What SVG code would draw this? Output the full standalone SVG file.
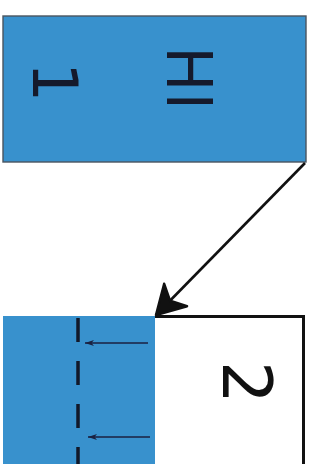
<svg xmlns="http://www.w3.org/2000/svg" width="320" height="464" viewBox="0 0 320 464">
  <style>
    .blue { fill: #3891cd; }
    .lbl { font-family: "Liberation Sans", Arial, sans-serif; fill: #151a2c; }
    .lbl2 { font-family: "DejaVu Sans", sans-serif; fill: #151a2c; }
    .lbl3 { font-family: "DejaVu Sans", sans-serif; fill: #111111; }
    .big { stroke: #111; stroke-width: 2.6; fill: none; }
    .small { stroke: #1a2140; stroke-width: 1.6; fill: none; }
  </style>
  <defs>
    <marker id="bigHead" markerUnits="userSpaceOnUse" markerWidth="40" markerHeight="40" viewBox="-32 -20 36 40" refX="0" refY="0" orient="auto" overflow="visible">
      <path d="M0,0 L-28,-16 L-20,0 L-28,16 Z" fill="#111" stroke="#111" stroke-width="2.5" stroke-linejoin="round"/>
    </marker>
    <marker id="smallHead" markerUnits="userSpaceOnUse" markerWidth="12" markerHeight="10" viewBox="-10 -5 12 10" refX="0" refY="0" orient="auto" overflow="visible">
      <path d="M0,0 L-9,-3 L-6.5,0 L-9,3 Z" fill="#1a2140"/>
    </marker>
  </defs>
  <rect width="320" height="464" fill="#ffffff"/>

  <g id="node1">
    <rect class="blue" x="3" y="16" width="303" height="146" stroke="#4a5560" stroke-width="1.4"/>
    <g transform="translate(167,47.5) rotate(90) scale(0.9,1)">
      <text class="lbl" x="0" y="0" font-size="66" letter-spacing="3">HI</text>
    </g>
    <g transform="translate(33,62) rotate(90)">
      <text class="lbl2" x="0" y="0" font-size="63">1</text>
    </g>
  </g>

  <g id="node2">
    <rect class="blue" x="3" y="316" width="152" height="150"/>
    <path d="M155,316.5 H303.5 V466" fill="#fff" stroke="#111" stroke-width="3"/>
    <line x1="78" y1="318" x2="78" y2="466" stroke="#121829" stroke-width="3.5" stroke-dasharray="24 19"/>
    <g transform="translate(223,361) rotate(90)">
      <text class="lbl3" x="0" y="0" font-size="67">2</text>
    </g>
  </g>

  <g id="connectors">
    <line class="big" x1="305" y1="163" x2="156" y2="315" marker-end="url(#bigHead)"/>
    <line class="small" x1="148" y1="343" x2="85" y2="343" marker-end="url(#smallHead)"/>
    <line class="small" x1="150" y1="437" x2="88" y2="437" marker-end="url(#smallHead)"/>
  </g>
</svg>
